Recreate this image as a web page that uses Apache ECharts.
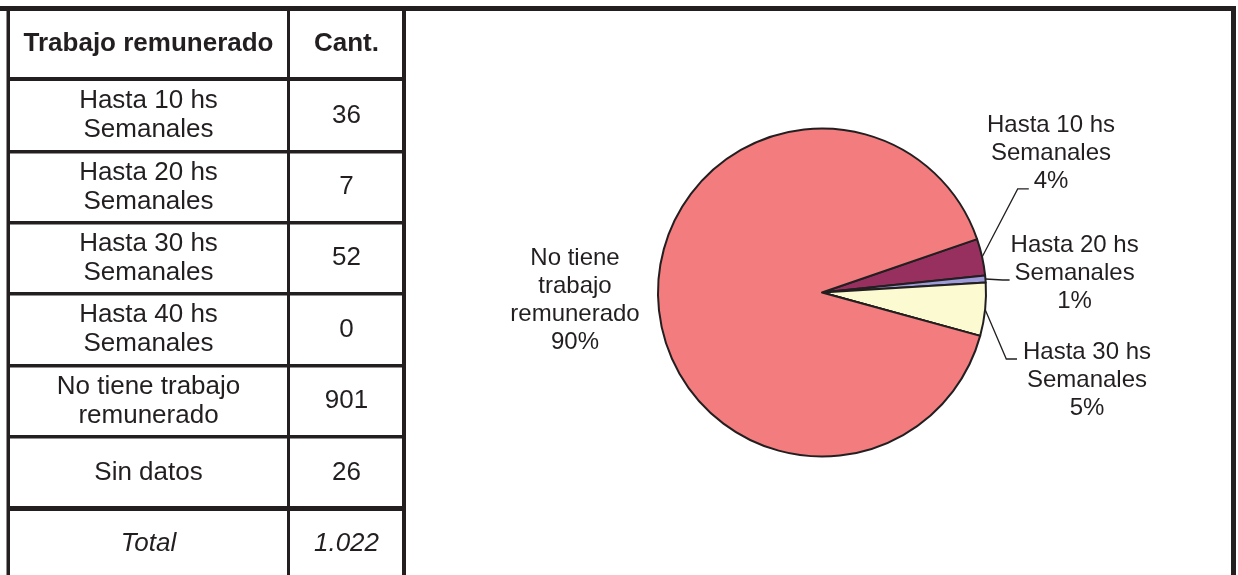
<!DOCTYPE html>
<html>
<head>
<meta charset="utf-8">
<script src="https://cdn.jsdelivr.net/npm/echarts@6/dist/echarts.min.js"></script>
<style>
html, body { margin: 0; padding: 0; background: #ffffff; }
#chart { width: 1238px; height: 575px; }
</style>
</head>
<body>
<div id="chart"></div>
<script>
// ---- Data ----
const tableHeader = ['Trabajo remunerado', 'Cant.'];
const tableCategories = [
  'Hasta 10 hs\nSemanales',
  'Hasta 20 hs\nSemanales',
  'Hasta 30 hs\nSemanales',
  'Hasta 40 hs\nSemanales',
  'No tiene trabajo\nremunerado',
  'Sin datos'
];
const tableCounts = [36, 7, 52, 0, 901, 26];
const totalLabel = 'Total';

const pieNames = [
  'Hasta 10 hs\nSemanales',
  'Hasta 20 hs\nSemanales',
  'Hasta 30 hs\nSemanales',
  'Hasta 40 hs\nSemanales',
  'No tiene\ntrabajo\nremunerado'
];
const pieValues = [36, 7, 52, 0, 901];
const pieColors = ['#97305F', '#9D9CD8', '#FCFAD0', '#CCFFFF', '#F27C7E'];

// ---- Style / layout ----
const INK = '#231f20';
const FONT = '"Liberation Sans", Arial, Helvetica, sans-serif';
const rowBounds = [9, 79, 151.75, 222.75, 293.75, 365.75, 436.75, 508.5, 580];
const colLeftX = 148.5, colRightX = 346.5;

// label placement (style only): label center and guide-line offsets relative to it
const labelPlace = [
  { x: 1051, y: 153.5, pts: [[-33.3, 35.4], [-22.2, 35.4]] },
  { x: 1074.6, y: 273, pts: [[-72, 7], [-65, 7]] },
  { x: 1087, y: 380, pts: [[-80.7, -21], [-70, -21]] },
  null,
  { x: 575, y: 300.5, pts: null }
];

function fmtThousands(n) {
  return String(n).replace(/\B(?=(\d{3})+(?!\d))/g, '.');
}

const graphics = [];
function bar(x, y, w, h) {
  graphics.push({ type: 'rect', shape: { x: x, y: y, width: w, height: h }, style: { fill: INK }, silent: true, z: 10 });
}
// frame
bar(0, 6, 1236, 5);
bar(1231, 6, 5, 575);
bar(402, 6, 4, 575);
// table borders
bar(6.5, 9, 3.5, 575);
bar(287, 9, 3, 575);
bar(7, 77, 397, 4);
bar(7, 150, 397, 3.5);
bar(7, 221, 397, 3.5);
bar(7, 292, 397, 3.5);
bar(7, 364, 397, 3.5);
bar(7, 435, 397, 3.5);
bar(7, 506, 397, 5);

function txt(x, y, s, opts) {
  graphics.push({
    type: 'text', x: x, y: y, silent: true, z: 11,
    style: Object.assign({
      text: s, fill: INK, align: 'center', verticalAlign: 'middle',
      fontFamily: FONT, fontSize: 26, lineHeight: 29
    }, opts || {})
  });
}
function rowCenter(i) { return (rowBounds[i] + rowBounds[i + 1]) / 2; }

txt(colLeftX, rowCenter(0), tableHeader[0], { fontWeight: 'bold' });
txt(colRightX, rowCenter(0), tableHeader[1], { fontWeight: 'bold' });
tableCategories.forEach(function (c, i) {
  txt(colLeftX, rowCenter(i + 1), c);
  txt(colRightX, rowCenter(i + 1), String(tableCounts[i]));
});
const total = tableCounts.reduce(function (a, b) { return a + b; }, 0);
const tr = tableCategories.length + 1;
txt(colLeftX, rowCenter(tr), totalLabel, { fontStyle: 'italic' });
txt(colRightX, rowCenter(tr), fmtThousands(total), { fontStyle: 'italic' });

const pieData = pieNames.map(function (n, i) {
  const d = { name: n, value: pieValues[i], itemStyle: { color: pieColors[i] } };
  if (pieValues[i] === 0) {
    d.label = { show: false };
    d.labelLine = { show: false };
  }
  if (labelPlace[i] && !labelPlace[i].pts) {
    d.labelLine = { show: false };
  }
  return d;
});

const chart = echarts.init(document.getElementById('chart'), null, { renderer: 'canvas' });
chart.setOption({
  animation: false,
  backgroundColor: '#ffffff',
  graphic: graphics,
  series: [{
    type: 'pie',
    center: [822, 292.5],
    radius: 164,
    startAngle: 19,
    clockwise: true,
    avoidLabelOverlap: false,
    data: pieData,
    itemStyle: { borderColor: INK, borderWidth: 2 },
    label: {
      show: true,
      position: 'outside',
      color: INK,
      fontFamily: FONT,
      fontSize: 24,
      lineHeight: 28,
      align: 'center',
      formatter: function (p) { return p.name + '\n' + Math.round(p.percent) + '%'; }
    },
    labelLine: {
      show: true, length: 10, length2: 10, smooth: false,
      lineStyle: { color: INK, width: 1.3 }
    },
    emphasis: { disabled: true },
    labelLayout: function (params) {
      const lp = labelPlace[params.dataIndex];
      if (!lp) return {};
      const out = { x: lp.x, y: lp.y, align: 'center', verticalAlign: 'middle' };
      if (lp.pts && params.labelLinePoints) {
        const start = params.labelLinePoints[0];
        out.labelLinePoints = [
          [start[0], start[1]],
          [lp.x + lp.pts[0][0], lp.y + lp.pts[0][1]],
          [lp.x + lp.pts[1][0], lp.y + lp.pts[1][1]]
        ];
      }
      return out;
    }
  }]
});
</script>
</body>
</html>
